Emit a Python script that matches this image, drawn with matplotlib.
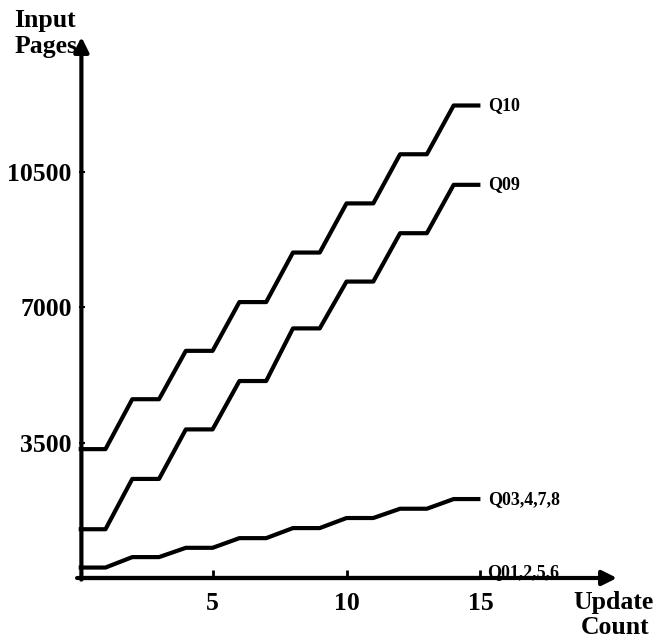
import numpy as np
import matplotlib.pyplot as plt

# update counts and page levels (one level per pair of updates)
updates = np.arange(16)
q10_levels = [3330, 4620, 5870, 7130, 8410, 9680, 10950, 12210]
q09_levels = [1260, 2560, 3840, 5090, 6450, 7660, 8910, 10160]
q03_levels = [270, 540, 780, 1030, 1290, 1550, 1790, 2040]
q01_levels = [0, 0, 0, 0, 0, 0, 0, 0]

series = [
    ("Q10", q10_levels),
    ("Q09", q09_levels),
    ("Q03,4,7,8", q03_levels),
    ("Q01,2,5,6", q01_levels),
]

xticks = [5, 10, 15]
yticks = [3500, 7000, 10500]

W, H = 659, 641
fig = plt.figure(figsize=(W / 100, H / 100), dpi=100)
ax = fig.add_axes([78.7 / W, 63 / H, 538.3 / W, 541 / H])
ax.set_xlim(0, 20.1)
ax.set_ylim(0, 13980)

font = "Liberation Serif"

for name, levels in series:
    y = np.repeat(levels, 2)
    ax.plot(updates, y, color="black", lw=3, solid_capstyle="butt",
            solid_joinstyle="round", clip_on=False)
    if name == "Q01,2,5,6":
        ax.text(15.25, 150, name, fontsize=13, family=font, fontweight="bold",
                va="center", ha="left")
    else:
        ax.text(updates[-1] + 0.3, levels[-1], name, fontsize=13, family=font,
                fontweight="bold", va="center", ha="left")

for s in ax.spines.values():
    s.set_visible(False)

# axes with arrow heads
arrow = dict(arrowstyle="-|>", lw=3, color="black", mutation_scale=22,
             shrinkA=0, shrinkB=0)
ax.annotate("", xy=(1, 0), xytext=(-0.003, 0), xycoords="axes fraction",
            arrowprops=arrow, annotation_clip=False)
ax.annotate("", xy=(0.005, 1), xytext=(0.005, -0.003), xycoords="axes fraction",
            arrowprops=arrow, annotation_clip=False)

ax.set_xticks(xticks)
ax.set_yticks(yticks)
ax.set_xticklabels([str(t) for t in xticks], family=font, fontweight="bold", fontsize=18.5)
ax.set_yticklabels([str(t) for t in yticks], family=font, fontweight="bold", fontsize=18.5)
ax.tick_params(axis="x", direction="in", length=6, width=2, pad=10)
ax.tick_params(axis="y", direction="in", length=4, width=1.5, pad=5)

fig.text(45 / W, 1 - 20 / H, "Input", family=font, fontweight="bold", fontsize=18.5,
         ha="center", va="center")
fig.text(46 / W, 1 - 47 / H, "Pages", family=font, fontweight="bold", fontsize=18.5,
         ha="center", va="center")
fig.text(614 / W, 1 - 602 / H, "Update", family=font, fontweight="bold", fontsize=18.5,
         ha="center", va="center")
fig.text(615 / W, 1 - 627 / H, "Count", family=font, fontweight="bold", fontsize=18.5,
         ha="center", va="center")

fig.savefig("out.png", dpi=100)
